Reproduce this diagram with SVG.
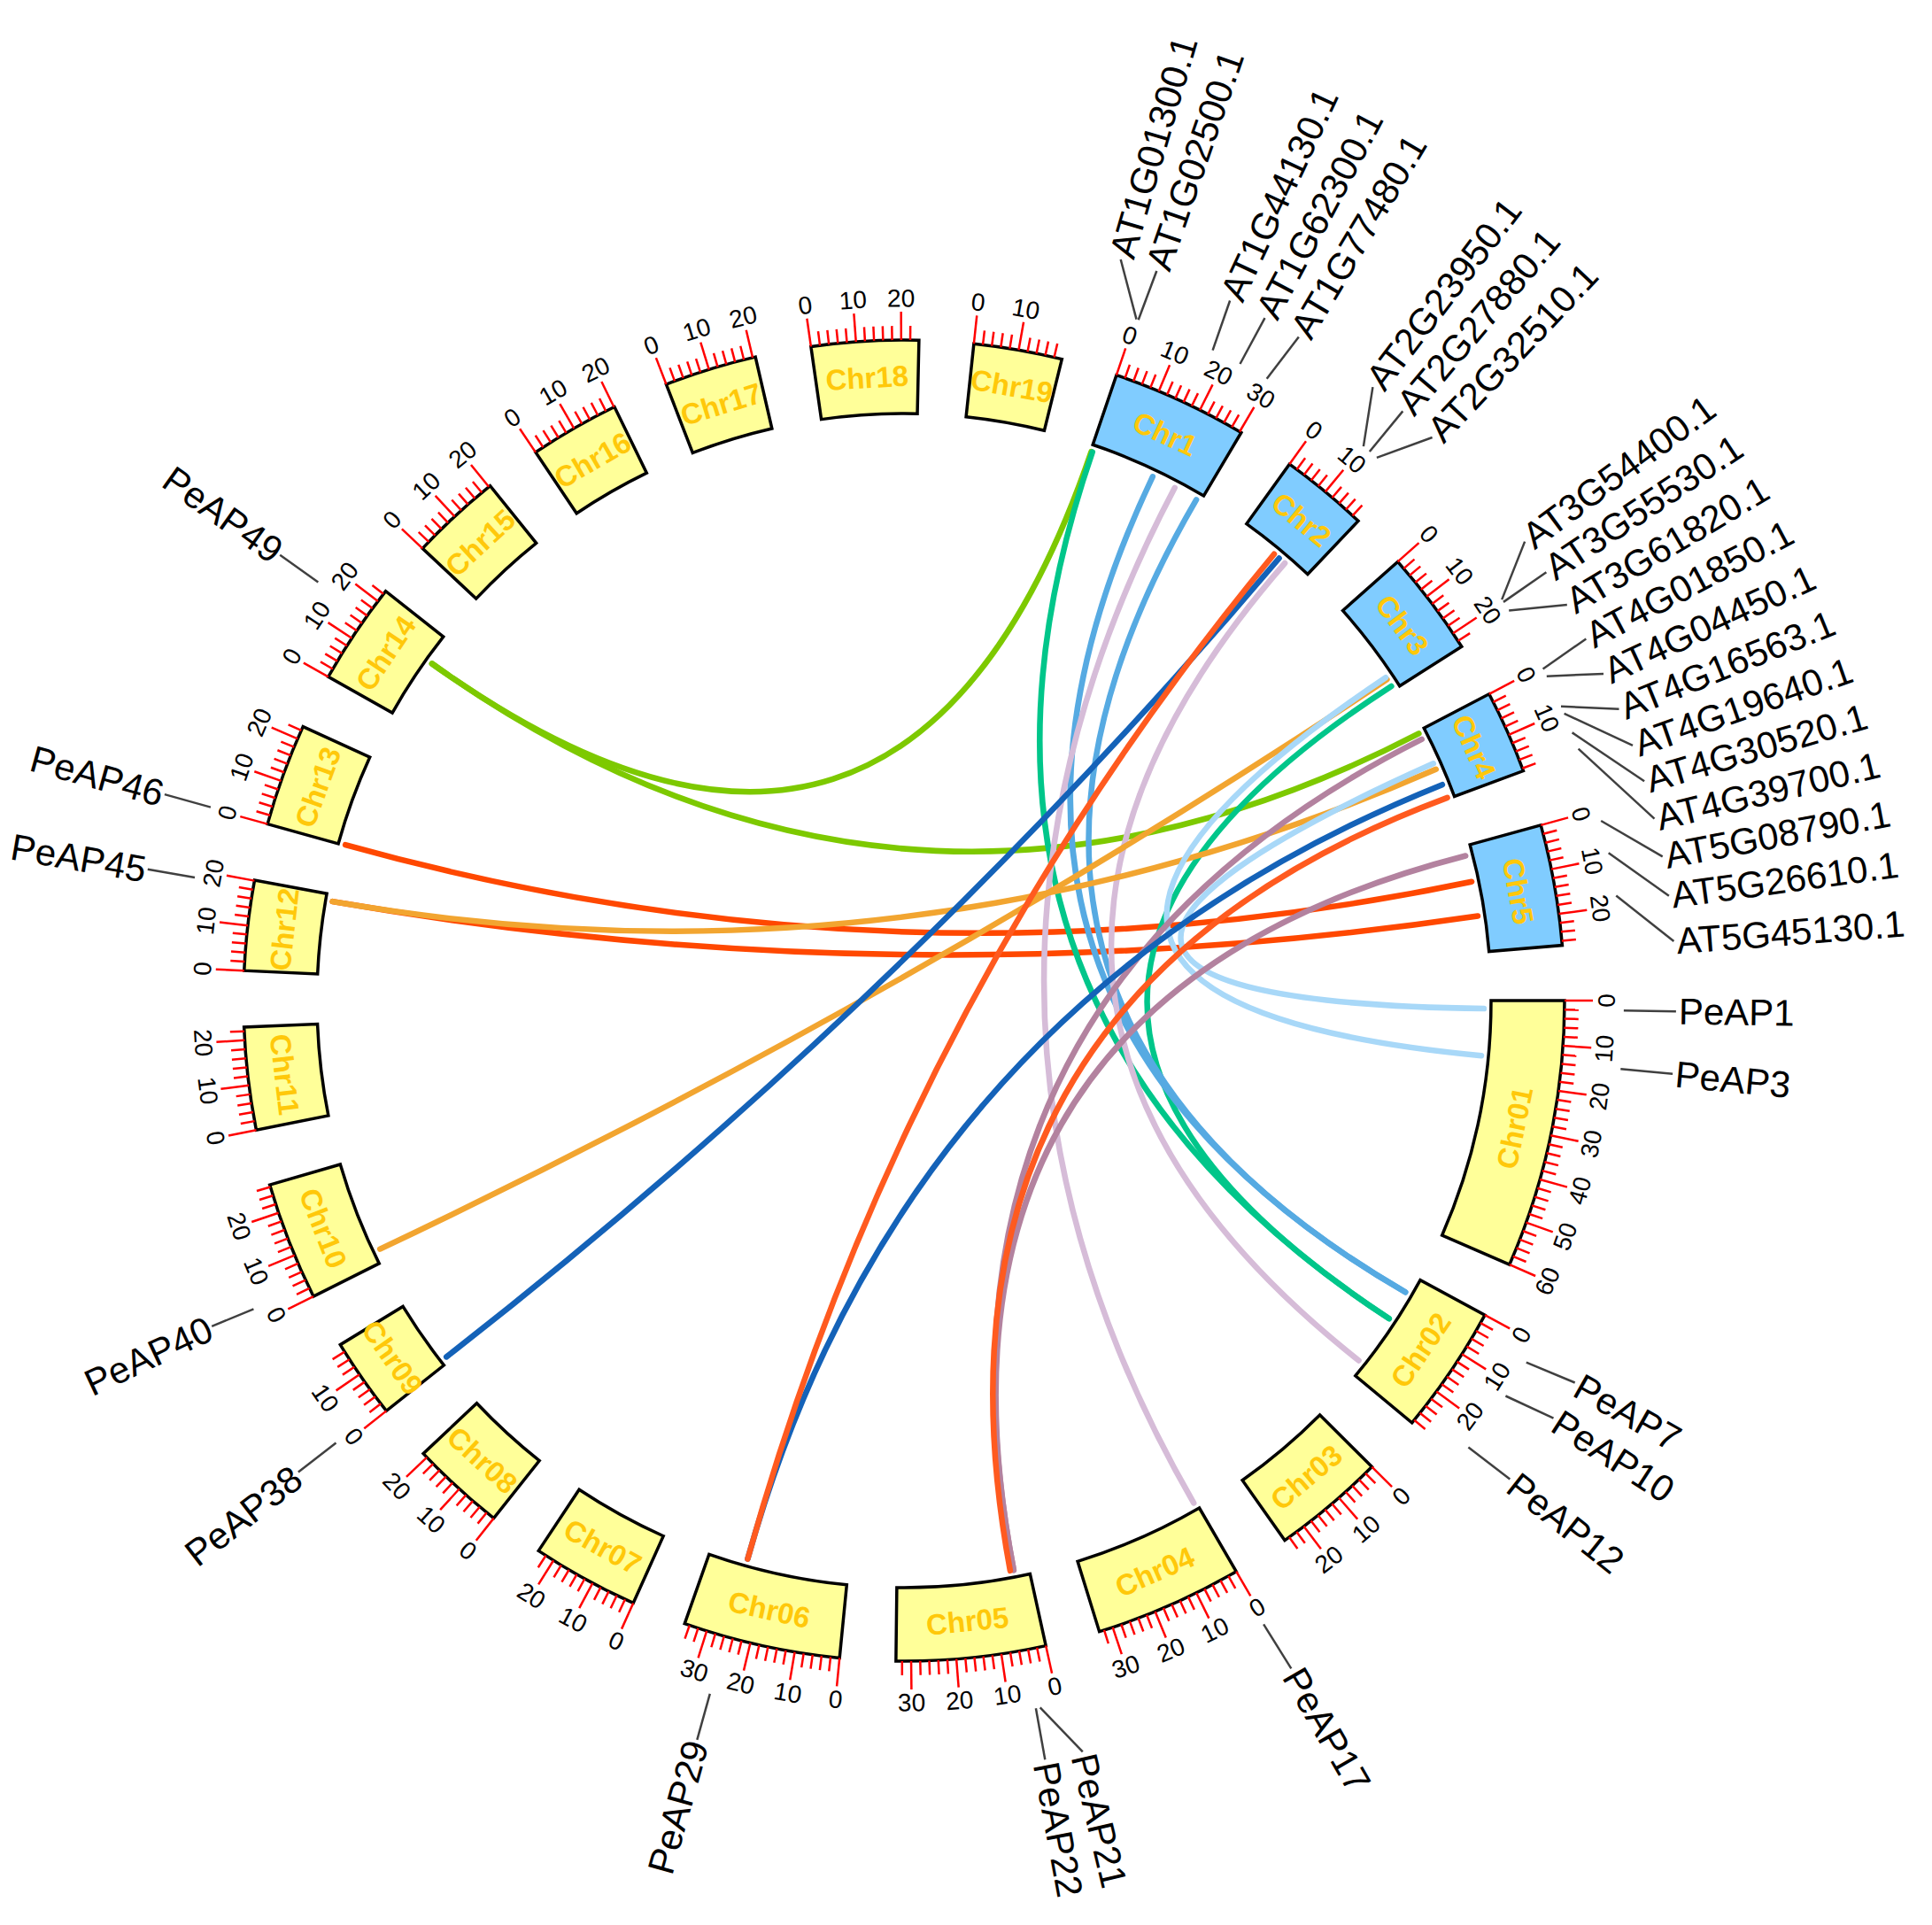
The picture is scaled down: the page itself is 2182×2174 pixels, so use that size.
<svg xmlns="http://www.w3.org/2000/svg" width="2182" height="2174" viewBox="0 0 2182 2174">
<style>
.tk{stroke:#FF0000;stroke-width:2.5}
.py{fill:#FFFF99;stroke:#000;stroke-width:3.5;stroke-linejoin:miter}
.at{fill:#80CCFF;stroke:#000;stroke-width:3.5;stroke-linejoin:miter}
.tl{font-family:"Liberation Sans",Arial,sans-serif;font-size:28px;fill:#000;text-anchor:middle;dominant-baseline:central}
.cl{font-family:"Liberation Sans",Arial,sans-serif;font-size:33px;font-weight:bold;fill:#FFC80A;text-anchor:middle;dominant-baseline:central}
.gl{font-family:"Liberation Sans",Arial,sans-serif;font-size:42px;fill:#000;dominant-baseline:central}
.gr{text-anchor:start}
.gf{text-anchor:end}
.ld{stroke:#404040;stroke-width:2.5;fill:none}
.lk path{fill:none;stroke-width:6.5;stroke-linecap:round}
</style>
<defs>
<line id="mi" x1="0" y1="-746" x2="0" y2="-762" class="tk"/>
<line id="ma" x1="0" y1="-746" x2="0" y2="-778" class="tk"/>
<g id="B1"><use href="#ma"/></g>
<g id="B2"><use href="#ma"/><use href="#mi" transform="rotate(0.7854)"/></g>
<g id="B3"><use href="#B2"/><use href="#mi" transform="rotate(1.5708)"/></g>
<g id="B4"><use href="#B3"/><use href="#mi" transform="rotate(2.3562)"/></g>
<g id="B5"><use href="#B4"/><use href="#mi" transform="rotate(3.1416)"/></g>
</defs>
<rect width="2182" height="2174" fill="#FFFFFF"/>

<g id="links" class="lk">
<path stroke="#FF4800" d="M1662.1,995.7Q1021,1130 390.1,954.1"/>
<path stroke="#FF4800" d="M1669.0,1034.5Q1021,1130 375.6,1018.1"/>
<path stroke="#7DC900" d="M1232.5,510.1Q1021,1130 487.9,749.5"/>
<path stroke="#7DC900" d="M1602.4,828.4Q1021,1130 487.9,749.5"/>
<path stroke="#00C68A" d="M1233.8,510.5Q1021,1130 1568.8,1489.1"/>
<path stroke="#00C68A" d="M1571.4,775.0Q1021,1130 1568.8,1489.1"/>
<path stroke="#56AAE2" d="M1301.8,538.3Q1021,1130 1587.2,1459.3"/>
<path stroke="#56AAE2" d="M1351.1,564.3Q1021,1130 1587.2,1459.3"/>
<path stroke="#D6BCD8" d="M1326.8,550.8Q1021,1130 1348.2,1697.4"/>
<path stroke="#D6BCD8" d="M1451.1,636.0Q1021,1130 1534.6,1536.5"/>
<path stroke="#F2A530" d="M1566.4,767.4Q1021,1130 429.2,1410.6"/>
<path stroke="#F2A530" d="M1621.7,868.8Q1021,1130 375.6,1018.1"/>
<path stroke="#A8D8F8" d="M1565.0,765.2Q1021,1130 1673.0,1192.2"/>
<path stroke="#A8D8F8" d="M1618.8,862.3Q1021,1130 1675.9,1139.1"/>
<path stroke="#B3829F" d="M1605.7,834.9Q1021,1130 1144.9,1773.2"/>
<path stroke="#B3829F" d="M1655.2,966.5Q1021,1130 1144.9,1773.2"/>
<path stroke="#1462B8" d="M1444.6,630.5Q1021,1130 504.2,1532.4"/>
<path stroke="#1462B8" d="M1628.9,886.2Q1021,1130 844.4,1760.7"/>
<path stroke="#FF5A1F" d="M1439.0,625.8Q1021,1130 844.4,1760.7"/>
<path stroke="#FF5A1F" d="M1634.6,900.9Q1021,1130 1140.9,1773.9"/>
</g>

<g id="Chr1" transform="translate(1021,1130) rotate(18.76)">
<path class="at" d="M0,-746A746,746 0 0 1 154.3,-729.9L137.2,-648.7A663,663 0 0 0 0,-663Z"/>
<use href="#B5"/><use href="#B5" transform="rotate(3.927)"/><use href="#B5" transform="rotate(7.854)"/><use href="#B1" transform="rotate(11.781)"/>
<text class="tl" transform="translate(0,-793)">0</text>
<text class="tl" transform="rotate(3.927) translate(0,-793)">10</text>
<text class="tl" transform="rotate(7.854) translate(0,-793)">20</text>
<text class="tl" transform="rotate(11.781) translate(0,-793)">30</text>
<text class="cl" transform="rotate(5.97) translate(0,-704.5)">Chr1</text>
</g>
<g id="Chr2" transform="translate(1021,1130) rotate(35.7)">
<path class="at" d="M0,-746A746,746 0 0 1 100.5,-739.2L89.3,-657.0A663,663 0 0 0 0,-663Z"/>
<use href="#B5"/><use href="#B5" transform="rotate(3.927)"/>
<text class="tl" transform="translate(0,-793)">0</text>
<text class="tl" transform="rotate(3.927) translate(0,-793)">10</text>
<text class="cl" transform="rotate(3.87) translate(0,-704.5)">Chr2</text>
</g>
<g id="Chr3" transform="translate(1021,1130) rotate(48.37)">
<path class="at" d="M0,-746A746,746 0 0 1 119.6,-736.3L106.3,-654.4A663,663 0 0 0 0,-663Z"/>
<use href="#B5"/><use href="#B5" transform="rotate(3.927)"/><use href="#B2" transform="rotate(7.854)"/>
<text class="tl" transform="translate(0,-793)">0</text>
<text class="tl" transform="rotate(3.927) translate(0,-793)">10</text>
<text class="tl" transform="rotate(7.854) translate(0,-793)">20</text>
<text class="cl" transform="rotate(4.615) translate(0,-704.5)">Chr3</text>
</g>
<g id="Chr4" transform="translate(1021,1130) rotate(62.35)">
<path class="at" d="M0,-746A746,746 0 0 1 94.8,-740.0L84.2,-657.6A663,663 0 0 0 0,-663Z"/>
<use href="#B5"/><use href="#B5" transform="rotate(3.927)"/>
<text class="tl" transform="translate(0,-793)">0</text>
<text class="tl" transform="rotate(3.927) translate(0,-793)">10</text>
<text class="cl" transform="rotate(3.65) translate(0,-704.5)">Chr4</text>
</g>
<g id="Chr5" transform="translate(1021,1130) rotate(74.6)">
<path class="at" d="M0,-746A746,746 0 0 1 137.2,-733.3L122.0,-651.7A663,663 0 0 0 0,-663Z"/>
<use href="#B5"/><use href="#B5" transform="rotate(3.927)"/><use href="#B4" transform="rotate(7.854)"/>
<text class="tl" transform="translate(0,-793)">0</text>
<text class="tl" transform="rotate(3.927) translate(0,-793)">10</text>
<text class="tl" transform="rotate(7.854) translate(0,-793)">20</text>
<text class="cl" transform="rotate(5.3) translate(0,-704.5)">Chr5</text>
</g>

<g id="Chr01" transform="translate(1021,1130) rotate(90)">
<path class="py" d="M0,-746A746,746 0 0 1 298.2,-683.8L265.0,-607.7A663,663 0 0 0 0,-663Z"/>
<use href="#B5"/><use href="#B5" transform="rotate(3.927)"/><use href="#B5" transform="rotate(7.854)"/><use href="#B5" transform="rotate(11.781)"/><use href="#B5" transform="rotate(15.708)"/><use href="#B5" transform="rotate(19.635)"/><use href="#B1" transform="rotate(23.562)"/>
<text class="tl" transform="translate(0,-793) rotate(180)">0</text>
<text class="tl" transform="rotate(3.927) translate(0,-793) rotate(180)">10</text>
<text class="tl" transform="rotate(7.854) translate(0,-793) rotate(180)">20</text>
<text class="tl" transform="rotate(11.781) translate(0,-793) rotate(180)">30</text>
<text class="tl" transform="rotate(15.708) translate(0,-793) rotate(180)">40</text>
<text class="tl" transform="rotate(19.635) translate(0,-793) rotate(180)">50</text>
<text class="tl" transform="rotate(23.562) translate(0,-793) rotate(180)">60</text>
<text class="cl" transform="rotate(11.78) translate(0,-704.5) rotate(180)">Chr01</text>
</g>
<g id="Chr02" transform="translate(1021,1130) rotate(118.43)">
<path class="py" d="M0,-746A746,746 0 0 1 146.2,-731.5L129.9,-650.1A663,663 0 0 0 0,-663Z"/>
<use href="#B5"/><use href="#B5" transform="rotate(3.927)"/><use href="#B5" transform="rotate(7.854)"/>
<text class="tl" transform="translate(0,-793) rotate(180)">0</text>
<text class="tl" transform="rotate(3.927) translate(0,-793) rotate(180)">10</text>
<text class="tl" transform="rotate(7.854) translate(0,-793) rotate(180)">20</text>
<text class="cl" transform="rotate(5.655) translate(0,-704.5) rotate(180)">Chr02</text>
</g>
<g id="Chr03" transform="translate(1021,1130) rotate(134.9)">
<path class="py" d="M0,-746A746,746 0 0 1 128.3,-734.9L114.0,-653.1A663,663 0 0 0 0,-663Z"/>
<use href="#B5"/><use href="#B5" transform="rotate(3.927)"/><use href="#B3" transform="rotate(7.854)"/>
<text class="tl" transform="translate(0,-793) rotate(180)">0</text>
<text class="tl" transform="rotate(3.927) translate(0,-793) rotate(180)">10</text>
<text class="tl" transform="rotate(7.854) translate(0,-793) rotate(180)">20</text>
<text class="cl" transform="rotate(4.95) translate(0,-704.5) rotate(180)">Chr03</text>
</g>
<g id="Chr04" transform="translate(1021,1130) rotate(149.8)">
<path class="py" d="M0,-746A746,746 0 0 1 167.8,-726.9L149.1,-646.0A663,663 0 0 0 0,-663Z"/>
<use href="#B5"/><use href="#B5" transform="rotate(3.927)"/><use href="#B5" transform="rotate(7.854)"/><use href="#B2" transform="rotate(11.781)"/>
<text class="tl" transform="translate(0,-793) rotate(180)">0</text>
<text class="tl" transform="rotate(3.927) translate(0,-793) rotate(180)">10</text>
<text class="tl" transform="rotate(7.854) translate(0,-793) rotate(180)">20</text>
<text class="tl" transform="rotate(11.781) translate(0,-793) rotate(180)">30</text>
<text class="cl" transform="rotate(6.5) translate(0,-704.5) rotate(180)">Chr04</text>
</g>
<g id="Chr05" transform="translate(1021,1130) rotate(167.6)">
<path class="py" d="M0,-746A746,746 0 0 1 169.1,-726.6L150.3,-645.7A663,663 0 0 0 0,-663Z"/>
<use href="#B5"/><use href="#B5" transform="rotate(3.927)"/><use href="#B5" transform="rotate(7.854)"/><use href="#B2" transform="rotate(11.781)"/>
<text class="tl" transform="translate(0,-793) rotate(180)">0</text>
<text class="tl" transform="rotate(3.927) translate(0,-793) rotate(180)">10</text>
<text class="tl" transform="rotate(7.854) translate(0,-793) rotate(180)">20</text>
<text class="tl" transform="rotate(11.781) translate(0,-793) rotate(180)">30</text>
<text class="cl" transform="rotate(6.56) translate(0,-704.5) rotate(180)">Chr05</text>
</g>
<g id="Chr06" transform="translate(1021,1130) rotate(185.6)">
<path class="py" d="M0,-746A746,746 0 0 1 177.9,-724.5L158.1,-643.9A663,663 0 0 0 0,-663Z"/>
<use href="#B5"/><use href="#B5" transform="rotate(3.927)"/><use href="#B5" transform="rotate(7.854)"/><use href="#B3" transform="rotate(11.781)"/>
<text class="tl" transform="translate(0,-793) rotate(180)">0</text>
<text class="tl" transform="rotate(3.927) translate(0,-793) rotate(180)">10</text>
<text class="tl" transform="rotate(7.854) translate(0,-793) rotate(180)">20</text>
<text class="tl" transform="rotate(11.781) translate(0,-793) rotate(180)">30</text>
<text class="cl" transform="rotate(6.89) translate(0,-704.5) rotate(180)">Chr06</text>
</g>
<g id="Chr07" transform="translate(1021,1130) rotate(204.2)">
<path class="py" d="M0,-746A746,746 0 0 1 121.8,-736.0L108.3,-654.1A663,663 0 0 0 0,-663Z"/>
<use href="#B5"/><use href="#B5" transform="rotate(3.927)"/><use href="#B2" transform="rotate(7.854)"/>
<text class="tl" transform="translate(0,-793) rotate(180)">0</text>
<text class="tl" transform="rotate(3.927) translate(0,-793) rotate(180)">10</text>
<text class="tl" transform="rotate(7.854) translate(0,-793) rotate(180)">20</text>
<text class="cl" transform="rotate(4.695) translate(0,-704.5) rotate(180)">Chr07</text>
</g>
<g id="Chr08" transform="translate(1021,1130) rotate(218.4)">
<path class="py" d="M0,-746A746,746 0 0 1 107.7,-738.2L95.7,-656.1A663,663 0 0 0 0,-663Z"/>
<use href="#B5"/><use href="#B5" transform="rotate(3.927)"/><use href="#B1" transform="rotate(7.854)"/>
<text class="tl" transform="translate(0,-793) rotate(180)">0</text>
<text class="tl" transform="rotate(3.927) translate(0,-793) rotate(180)">10</text>
<text class="tl" transform="rotate(7.854) translate(0,-793) rotate(180)">20</text>
<text class="cl" transform="rotate(4.145) translate(0,-704.5) rotate(180)">Chr08</text>
</g>
<g id="Chr09" transform="translate(1021,1130) rotate(231.6)">
<path class="py" d="M0,-746A746,746 0 0 1 90.9,-740.4L80.8,-658.1A663,663 0 0 0 0,-663Z"/>
<use href="#B5"/><use href="#B4" transform="rotate(3.927)"/>
<text class="tl" transform="translate(0,-793) rotate(180)">0</text>
<text class="tl" transform="rotate(3.927) translate(0,-793) rotate(180)">10</text>
<text class="cl" transform="rotate(3.495) translate(0,-704.5) rotate(180)">Chr09</text>
</g>
<g id="Chr10" transform="translate(1021,1130) rotate(243.4)">
<path class="py" d="M0,-746A746,746 0 0 1 134.7,-733.7L119.7,-652.1A663,663 0 0 0 0,-663Z"/>
<use href="#B5"/><use href="#B5" transform="rotate(3.927)"/><use href="#B4" transform="rotate(7.854)"/>
<text class="tl" transform="translate(0,-793) rotate(180)">0</text>
<text class="tl" transform="rotate(3.927) translate(0,-793) rotate(180)">10</text>
<text class="tl" transform="rotate(7.854) translate(0,-793) rotate(180)">20</text>
<text class="cl" transform="rotate(5.205) translate(0,-704.5) rotate(180)">Chr10</text>
</g>
<g id="Chr11" transform="translate(1021,1130) rotate(258.7)">
<path class="py" d="M0,-746A746,746 0 0 1 116.7,-736.8L103.7,-654.8A663,663 0 0 0 0,-663Z"/>
<use href="#B5"/><use href="#B5" transform="rotate(3.927)"/><use href="#B2" transform="rotate(7.854)"/>
<text class="tl" transform="translate(0,-793) rotate(180)">0</text>
<text class="tl" transform="rotate(3.927) translate(0,-793) rotate(180)">10</text>
<text class="tl" transform="rotate(7.854) translate(0,-793) rotate(180)">20</text>
<text class="cl" transform="rotate(4.495) translate(0,-704.5) rotate(180)">Chr11</text>
</g>
<g id="Chr12" transform="translate(1021,1130) rotate(272.6)">
<path class="py" d="M0,-746A746,746 0 0 1 102.5,-738.9L91.1,-656.7A663,663 0 0 0 0,-663Z"/>
<use href="#B5"/><use href="#B5" transform="rotate(3.927)"/><use href="#B1" transform="rotate(7.854)"/>
<text class="tl" transform="translate(0,-793)">0</text>
<text class="tl" transform="rotate(3.927) translate(0,-793)">10</text>
<text class="tl" transform="rotate(7.854) translate(0,-793)">20</text>
<text class="cl" transform="rotate(3.945) translate(0,-704.5)">Chr12</text>
</g>
<g id="Chr13" transform="translate(1021,1130) rotate(285.5)">
<path class="py" d="M0,-746A746,746 0 0 1 116.7,-736.8L103.7,-654.8A663,663 0 0 0 0,-663Z"/>
<use href="#B5"/><use href="#B5" transform="rotate(3.927)"/><use href="#B2" transform="rotate(7.854)"/>
<text class="tl" transform="translate(0,-793)">0</text>
<text class="tl" transform="rotate(3.927) translate(0,-793)">10</text>
<text class="tl" transform="rotate(7.854) translate(0,-793)">20</text>
<text class="cl" transform="rotate(4.495) translate(0,-704.5)">Chr13</text>
</g>
<g id="Chr14" transform="translate(1021,1130) rotate(299.35)">
<path class="py" d="M0,-746A746,746 0 0 1 116.1,-736.9L103.1,-654.9A663,663 0 0 0 0,-663Z"/>
<use href="#B5"/><use href="#B5" transform="rotate(3.927)"/><use href="#B2" transform="rotate(7.854)"/>
<text class="tl" transform="translate(0,-793)">0</text>
<text class="tl" transform="rotate(3.927) translate(0,-793)">10</text>
<text class="tl" transform="rotate(7.854) translate(0,-793)">20</text>
<text class="cl" transform="rotate(4.475) translate(0,-704.5)">Chr14</text>
</g>
<g id="Chr15" transform="translate(1021,1130) rotate(313.2)">
<path class="py" d="M0,-746A746,746 0 0 1 103.8,-738.7L92.3,-656.5A663,663 0 0 0 0,-663Z"/>
<use href="#B5"/><use href="#B5" transform="rotate(3.927)"/><use href="#B1" transform="rotate(7.854)"/>
<text class="tl" transform="translate(0,-793)">0</text>
<text class="tl" transform="rotate(3.927) translate(0,-793)">10</text>
<text class="tl" transform="rotate(7.854) translate(0,-793)">20</text>
<text class="cl" transform="rotate(4.005) translate(0,-704.5)">Chr15</text>
</g>
<g id="Chr16" transform="translate(1021,1130) rotate(326.1)">
<path class="py" d="M0,-746A746,746 0 0 1 102.5,-738.9L91.1,-656.7A663,663 0 0 0 0,-663Z"/>
<use href="#B5"/><use href="#B5" transform="rotate(3.927)"/><use href="#B1" transform="rotate(7.854)"/>
<text class="tl" transform="translate(0,-793)">0</text>
<text class="tl" transform="rotate(3.927) translate(0,-793)">10</text>
<text class="tl" transform="rotate(7.854) translate(0,-793)">20</text>
<text class="cl" transform="rotate(3.945) translate(0,-704.5)">Chr16</text>
</g>
<g id="Chr17" transform="translate(1021,1130) rotate(338.9)">
<path class="py" d="M0,-746A746,746 0 0 1 105.1,-738.6L93.4,-656.4A663,663 0 0 0 0,-663Z"/>
<use href="#B5"/><use href="#B5" transform="rotate(3.927)"/><use href="#B1" transform="rotate(7.854)"/>
<text class="tl" transform="translate(0,-793)">0</text>
<text class="tl" transform="rotate(3.927) translate(0,-793)">10</text>
<text class="tl" transform="rotate(7.854) translate(0,-793)">20</text>
<text class="cl" transform="rotate(4.045) translate(0,-704.5)">Chr17</text>
</g>
<g id="Chr18" transform="translate(1021,1130) rotate(351.9)">
<path class="py" d="M0,-746A746,746 0 0 1 121.8,-736.0L108.3,-654.1A663,663 0 0 0 0,-663Z"/>
<use href="#B5"/><use href="#B5" transform="rotate(3.927)"/><use href="#B2" transform="rotate(7.854)"/>
<text class="tl" transform="translate(0,-793)">0</text>
<text class="tl" transform="rotate(3.927) translate(0,-793)">10</text>
<text class="tl" transform="rotate(7.854) translate(0,-793)">20</text>
<text class="cl" transform="rotate(4.695) translate(0,-704.5)">Chr18</text>
</g>
<g id="Chr19" transform="translate(1021,1130) rotate(6.07)">
<path class="py" d="M0,-746A746,746 0 0 1 100.7,-739.2L89.5,-656.9A663,663 0 0 0 0,-663Z"/>
<use href="#B5"/><use href="#B5" transform="rotate(3.927)"/>
<text class="tl" transform="translate(0,-793)">0</text>
<text class="tl" transform="rotate(3.927) translate(0,-793)">10</text>
<text class="cl" transform="rotate(3.89) translate(0,-704.5)">Chr19</text>
</g>

<g id="gene-labels">
<g id="lab-AT1G01300"><path class="ld" d="M1283.5,360.6L1265.7,293.0"/><text class="gl gr" transform="translate(1021,1130) rotate(16.3) translate(0,-875) rotate(-90)">AT1G01300.1</text></g>
<g id="lab-AT1G02500"><path class="ld" d="M1285.7,361.3L1306.3,306.0"/><text class="gl gr" transform="translate(1021,1130) rotate(19.1) translate(0,-875) rotate(-90)">AT1G02500.1</text></g>
<g id="lab-AT1G44130"><path class="ld" d="M1369.6,395.6L1389.1,339.5"/><text class="gl gr" transform="translate(1021,1130) rotate(24.97) translate(0,-875) rotate(-90)">AT1G44130.1</text></g>
<g id="lab-AT1G62300"><path class="ld" d="M1400.5,411.0L1428.5,359.1"/><text class="gl gr" transform="translate(1021,1130) rotate(27.86) translate(0,-875) rotate(-90)">AT1G62300.1</text></g>
<g id="lab-AT1G77480"><path class="ld" d="M1430.7,427.8L1466.8,380.6"/><text class="gl gr" transform="translate(1021,1130) rotate(30.75) translate(0,-875) rotate(-90)">AT1G77480.1</text></g>
<g id="lab-AT2G23950"><path class="ld" d="M1539.9,504.1L1550.4,437.1"/><text class="gl gr" transform="translate(1021,1130) rotate(37.38) translate(0,-875) rotate(-90)">AT2G23950.1</text></g>
<g id="lab-AT2G27880"><path class="ld" d="M1546.8,510.0L1584.3,464.4"/><text class="gl gr" transform="translate(1021,1130) rotate(40.24) translate(0,-875) rotate(-90)">AT2G27880.1</text></g>
<g id="lab-AT2G32510"><path class="ld" d="M1554.9,516.9L1617.6,494.0"/><text class="gl gr" transform="translate(1021,1130) rotate(43.2) translate(0,-875) rotate(-90)">AT2G32510.1</text></g>
<g id="lab-AT3G54400"><path class="ld" d="M1696.2,677.1L1722.1,611.6"/><text class="gl gr" transform="translate(1021,1130) rotate(53.52) translate(0,-875) rotate(-90)">AT3G54400.1</text></g>
<g id="lab-AT3G55530"><path class="ld" d="M1698.0,679.9L1746.4,646.2"/><text class="gl gr" transform="translate(1021,1130) rotate(56.3) translate(0,-875) rotate(-90)">AT3G55530.1</text></g>
<g id="lab-AT3G61820"><path class="ld" d="M1704.2,689.4L1769.8,683.1"/><text class="gl gr" transform="translate(1021,1130) rotate(59.17) translate(0,-875) rotate(-90)">AT3G61820.1</text></g>
<g id="lab-AT4G01850"><path class="ld" d="M1742.6,755.6L1791.3,721.4"/><text class="gl gr" transform="translate(1021,1130) rotate(62.06) translate(0,-875) rotate(-90)">AT4G01850.1</text></g>
<g id="lab-AT4G04450"><path class="ld" d="M1746.8,763.7L1811.0,760.9"/><text class="gl gr" transform="translate(1021,1130) rotate(64.96) translate(0,-875) rotate(-90)">AT4G04450.1</text></g>
<g id="lab-AT4G16563"><path class="ld" d="M1763.0,797.8L1828.5,800.8"/><text class="gl gr" transform="translate(1021,1130) rotate(67.82) translate(0,-875) rotate(-90)">AT4G16563.1</text></g>
<g id="lab-AT4G19640"><path class="ld" d="M1766.6,805.8L1844.0,841.9"/><text class="gl gr" transform="translate(1021,1130) rotate(70.71) translate(0,-875) rotate(-90)">AT4G19640.1</text></g>
<g id="lab-AT4G30520"><path class="ld" d="M1775.6,827.4L1857.1,882.3"/><text class="gl gr" transform="translate(1021,1130) rotate(73.5) translate(0,-875) rotate(-90)">AT4G30520.1</text></g>
<g id="lab-AT4G39700"><path class="ld" d="M1782.6,845.7L1868.5,924.7"/><text class="gl gr" transform="translate(1021,1130) rotate(76.38) translate(0,-875) rotate(-90)">AT4G39700.1</text></g>
<g id="lab-AT5G08790"><path class="ld" d="M1808.2,927.0L1877.7,967.4"/><text class="gl gr" transform="translate(1021,1130) rotate(79.25) translate(0,-875) rotate(-90)">AT5G08790.1</text></g>
<g id="lab-AT5G26610"><path class="ld" d="M1816.7,963.3L1884.9,1011.7"/><text class="gl gr" transform="translate(1021,1130) rotate(82.2) translate(0,-875) rotate(-90)">AT5G26610.1</text></g>
<g id="lab-AT5G45130"><path class="ld" d="M1825.3,1011.5L1890.4,1063.1"/><text class="gl gr" transform="translate(1021,1130) rotate(85.6) translate(0,-875) rotate(-90)">AT5G45130.1</text></g>
<g id="lab-PeAP1"><path class="ld" d="M1833.9,1141.3L1892.9,1142.2"/><text class="gl gr" transform="translate(1021,1130) rotate(90.8) translate(0,-875) rotate(-90)">PeAP1</text></g>
<g id="lab-PeAP3"><path class="ld" d="M1830.3,1207.2L1889.1,1212.8"/><text class="gl gr" transform="translate(1021,1130) rotate(95.45) translate(0,-875) rotate(-90)">PeAP3</text></g>
<g id="lab-PeAP7"><path class="ld" d="M1723.8,1538.7L1778.7,1561.5"/><text class="gl gr" transform="translate(1021,1130) rotate(119.66) translate(0,-875) rotate(-90)">PeAP7</text></g>
<g id="lab-PeAP10"><path class="ld" d="M1700.4,1576.5L1754.5,1601.6"/><text class="gl gr" transform="translate(1021,1130) rotate(122.73) translate(0,-875) rotate(-90)">PeAP10</text></g>
<g id="lab-PeAP12"><path class="ld" d="M1658.4,1634.6L1705.3,1670.4"/><text class="gl gr" transform="translate(1021,1130) rotate(128.3) translate(0,-875) rotate(-90)">PeAP12</text></g>
<g id="lab-PeAP17"><path class="ld" d="M1427.1,1834.3L1458.3,1884.4"/><text class="gl gr" transform="translate(1021,1130) rotate(149.9) translate(0,-875) rotate(-90)">PeAP17</text></g>
<g id="lab-PeAP21"><path class="ld" d="M1174.7,1928.3L1222.8,1978.3"/><text class="gl gr" transform="translate(1021,1130) rotate(166.62) translate(0,-875) rotate(-90)">PeAP21</text></g>
<g id="lab-PeAP22"><path class="ld" d="M1169.9,1929.3L1180.3,1987.3"/><text class="gl gr" transform="translate(1021,1130) rotate(169.47) translate(0,-875) rotate(-90)">PeAP22</text></g>
<g id="lab-PeAP29"><path class="ld" d="M801.8,1912.9L787.3,1964.9"/><text class="gl gf" transform="translate(1021,1130) rotate(195.65) translate(0,-869) rotate(90)">PeAP29</text></g>
<g id="lab-PeAP38"><path class="ld" d="M379.5,1629.4L336.9,1662.6"/><text class="gl gf" transform="translate(1021,1130) rotate(232.05) translate(0,-869) rotate(90)">PeAP38</text></g>
<g id="lab-PeAP40"><path class="ld" d="M286.4,1478.3L239.2,1497.9"/><text class="gl gf" transform="translate(1021,1130) rotate(244.8) translate(0,-866) rotate(90)">PeAP40</text></g>
<g id="lab-PeAP45"><path class="ld" d="M220.0,991.0L166.8,981.8"/><text class="gl gf" transform="translate(1021,1130) rotate(279.8) translate(0,-869) rotate(90)">PeAP45</text></g>
<g id="lab-PeAP46"><path class="ld" d="M237.9,911.6L185.9,897.1"/><text class="gl gf" transform="translate(1021,1130) rotate(285.55) translate(0,-869) rotate(90)">PeAP46</text></g>
<g id="lab-PeAP49"><path class="ld" d="M359.3,657.6L316.2,626.8"/><text class="gl gf" transform="translate(1021,1130) rotate(305.5) translate(0,-868) rotate(90)">PeAP49</text></g>
</g>
</svg>
